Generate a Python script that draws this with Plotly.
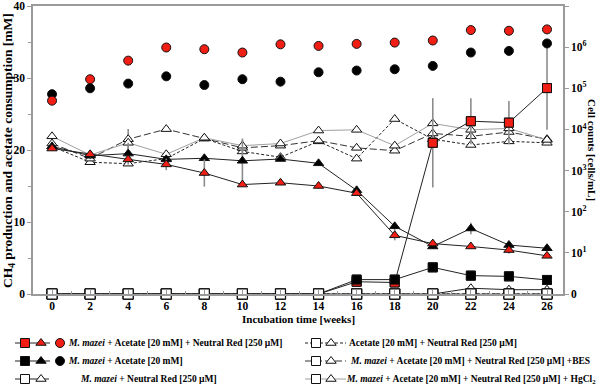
import plotly.graph_objects as go

# ---------------- data ----------------
weeks = [0, 2, 4, 6, 8, 10, 12, 14, 16, 18, 20, 22, 24, 26]

# CH4 production [mM] (squares)
ch4_mm_ac_nr = [0, 0, 0, 0, 0, 0, 0, 0, 1.7, 1.6, 21.0, 24.0, 23.8, 28.6]
ch4_mm_ac_nr_err = [0, 0, 0, 0, 0, 0, 0, 0, 0.2, 0.2, 6.2, 3.2, 3.0, 5.8]
ch4_mm_ac = [0, 0, 0, 0, 0, 0, 0, 0, 2.0, 2.0, 3.7, 2.55, 2.45, 1.95]
ch4_zero = [0, 0, 0, 0, 0, 0, 0, 0, 0, 0, 0, 0, 0, 0]

# acetate [mM] (triangles)
ac_mm_ac_nr = [20.2, 19.4, 18.7, 18.0, 16.8, 15.2, 15.45, 15.0, 14.0, 8.15, 7.0, 6.6, 6.1, 5.3]
ac_mm_ac_nr_err = [0.3, 0.4, 0.3, 0.8, 1.9, 0.3, 0.3, 0.3, 0.4, 0.7, 0.3, 0.3, 0.5, 0.3]
ac_mm_ac = [20.5, 19.2, 19.5, 18.7, 18.85, 18.5, 18.75, 18.15, 14.4, 9.4, 6.6, 9.1, 6.8, 6.35]
ac_mm_ac_err = [0.3, 0.5, 1.5, 0.3, 0.3, 2.9, 0.3, 0.3, 0.6, 0.5, 0.3, 0.8, 0.4, 0.3]
ac_ctrl_ac_nr = [20.5, 18.3, 18.1, 18.8, 21.6, 19.8, 19.0, 21.2, 18.8, 24.3, 21.5, 20.7, 21.2, 21.0]
ac_bes = [20.9, 18.8, 21.5, 22.9, 21.6, 20.3, 20.6, 21.3, 20.3, 19.9, 22.3, 21.9, 22.5, 21.5]
ac_bes_err = [0, 0, 1.4, 0, 0, 0, 0, 0, 0, 0, 0, 0, 0, 0]
ac_hg = [21.9, 19.3, 21.0, 19.4, 21.7, 20.6, 20.9, 22.7, 22.8, 20.6, 23.7, 22.8, 23.0, 21.4]
ac_hg_err = [0, 0, 0, 0, 0, 1.0, 0, 0, 0, 0, 0, 0, 0, 0]
ac_mm_nr = [0, 0, 0, 0, 0, 0, 0, 0, 0, 0, 0, 0.8, 0.6, 0.6]

# cell counts [cells/mL] (circles, right axis)
cells_mm_ac_nr = [5.0e4, 1.66e5, 4.7e5, 9.8e5, 8.9e5, 7.4e5, 1.17e6, 1.07e6, 1.2e6,
                  1.29e6, 1.45e6, 2.6e6, 2.5e6, 2.7e6]
cells_mm_ac = [7.2e4, 1.0e5, 1.3e5, 1.95e5, 1.2e5, 1.66e5, 1.45e5, 2.45e5, 2.7e5,
               2.9e5, 3.5e5, 7.4e5, 8.1e5, 1.23e6]

right_tickvals = [1, 10, 100, 1e3, 1e4, 1e5, 1e6, 1e7]
right_ticktext = ["0", "10<sup>1</sup>", "10<sup>2</sup>", "10<sup>3</sup>", "10<sup>4</sup>",
                  "10<sup>5</sup>", "10<sup>6</sup>", "10<sup>7</sup>"]

legend_labels = [
    "<i>M. mazei</i> + Acetate [20 mM] + Neutral Red [250 µM]",
    "<i>M. mazei</i> + Acetate [20 mM]",
    "<i>M. mazei</i> + Neutral Red [250 µM]",
    "Acetate [20 mM] + Neutral Red [250 µM]",
    "<i>M. mazei</i> + Acetate [20 mM] + Neutral Red [250 µM] +BES",
    "<i>M. mazei</i> + Acetate [20 mM] + Neutral Red [250 µM] + HgCl<sub>2</sub>",
]

# ---------------- styling ----------------
FONT = "Liberation Serif"
RED = "#f01e14"
AXC = "#9a9a9a"
ERRC = "#8c8c8c"
W, H = 601, 387
PL, PR, PT, PB = 33, 563, 6, 294

fig = go.Figure()


def add_series(y, symbol, fill, lcolor, dash, err=None, yaxis="y", size=9, mode="lines+markers", lw=1):
    kw = {}
    if err is not None:
        kw["error_y"] = dict(type="data", array=err, color=ERRC, thickness=1.6, width=0, visible=True)
    fig.add_trace(go.Scatter(
        x=weeks, y=y, mode=mode, yaxis=yaxis, xaxis="x",
        line=dict(color=lcolor, width=lw, dash=dash),
        marker=dict(symbol=symbol, size=size, color=fill, line=dict(color="#111", width=1)),
        cliponaxis=False, showlegend=False, **kw))


# control series (white markers)
add_series(ac_ctrl_ac_nr, "triangle-up", "white", "#222", "3px,2px")
add_series(ac_bes, "triangle-up", "white", "#333", "7px,3px", err=ac_bes_err)
add_series(ac_hg, "triangle-up", "white", "#a0a0a0", "solid", err=ac_hg_err)
add_series(ac_mm_nr, "triangle-up", "white", "#222", "solid")
add_series(ch4_zero, "square", "white", "#a0a0a0", "solid", size=10)
add_series(ch4_zero, "square", "white", "#222", "3px,2px", size=10)
add_series(ch4_zero, "square", "white", "#333", "7px,3px", size=10)

# M. mazei + acetate (black)
add_series(ac_mm_ac, "triangle-up", "black", "#222", "solid", err=ac_mm_ac_err)
# M. mazei + acetate + NR (red)
add_series(ac_mm_ac_nr, "triangle-up", RED, "#222", "solid", err=ac_mm_ac_nr_err)
add_series(ch4_mm_ac, "square", "black", "#222", "solid")
add_series(ch4_mm_ac_nr, "square", RED, "#222", "solid", err=ch4_mm_ac_nr_err)

# white squares drawn on top at zero
fig.add_trace(go.Scatter(x=weeks, y=ch4_zero, mode="markers", xaxis="x", yaxis="y",
                         marker=dict(symbol="square", size=10, color="white", line=dict(color="#111", width=1.2)),
                         cliponaxis=False, showlegend=False))
# re-draw colored squares above white ones where non zero
fig.add_trace(go.Scatter(x=weeks[8:], y=ch4_mm_ac_nr[8:], mode="markers", xaxis="x", yaxis="y",
                         marker=dict(symbol="square", size=9, color=RED, line=dict(color="#111", width=1)),
                         cliponaxis=False, showlegend=False))
fig.add_trace(go.Scatter(x=weeks[8:], y=ch4_mm_ac[8:], mode="markers", xaxis="x", yaxis="y",
                         marker=dict(symbol="square", size=9, color="black", line=dict(color="#111", width=1)),
                         cliponaxis=False, showlegend=False))

# cell counts (circles)
add_series(cells_mm_ac, "circle", "black", "#222", "solid", yaxis="y2", mode="markers")
add_series(cells_mm_ac_nr, "circle", RED, "#222", "solid", yaxis="y2", mode="markers")

# ---------------- legend (drawn on a pixel-coordinate helper axis) ----------------
rows = [343, 361, 379]
leg_items = [
    (15, 50, "#222", "solid", [(25, "square", RED), (41, "triangle-up", RED), (60, "circle", RED)], 67, rows[0]),
    (15, 50, "#222", "solid", [(25, "square", "black"), (41, "triangle-up", "black"), (60, "circle", "black")], 67, rows[1]),
    (15, 49, "#222", "solid", [(25, "square", "white"), (41, "triangle-up", "white")], 79, rows[2]),
    (305, 346, "#222", "3px,2px", [(316, "square", "white"), (331, "triangle-up", "white")], 348, rows[0]),
    (305, 346, "#333", "7px,3px", [(316, "square", "white"), (331, "triangle-up", "white")], 349, rows[1]),
    (305, 346, "#a0a0a0", "solid", [(316, "square", "white"), (331, "triangle-up", "white")], 345, rows[2]),
]
for i, (x0, x1, lc, dash, marks, tx, ry) in enumerate(leg_items):
    fig.add_trace(go.Scatter(x=[x0, x1], y=[ry, ry], mode="lines", xaxis="x2", yaxis="y3",
                             line=dict(color=lc, width=1.2, dash=dash), showlegend=False, hoverinfo="skip"))
    fig.add_trace(go.Scatter(x=[m[0] for m in marks], y=[ry] * len(marks), mode="markers",
                             xaxis="x2", yaxis="y3",
                             marker=dict(symbol=[m[1] for m in marks], color=[m[2] for m in marks],
                                         size=9, line=dict(color="#111", width=1)),
                             showlegend=False, hoverinfo="skip", cliponaxis=False))
    fig.add_annotation(x=tx, y=ry, xref="x2", yref="y3", text=legend_labels[i], showarrow=False,
                       xanchor="left", yanchor="middle", borderpad=0,
                       font=dict(family=FONT, size=9.5, color="black", weight="bold"))

# ---------------- axes ----------------
tickfont = dict(family=FONT, size=11.5, color="black", weight="bold")
fig.update_layout(
    width=W, height=H, margin=dict(l=0, r=0, t=0, b=0, autoexpand=False),
    paper_bgcolor="white", plot_bgcolor="white",
    xaxis=dict(domain=[PL / W, PR / W], range=[-1, 26.84], tickvals=weeks, ticks="inside",
               ticklen=4, tickcolor=AXC, showline=True, linecolor=AXC, linewidth=1.5, mirror=True,
               showgrid=False, zeroline=False, tickfont=tickfont, anchor="y", automargin=False,
               minor=dict(dtick=1, ticks="inside", ticklen=3, tickcolor=AXC)),
    yaxis=dict(domain=[1 - PB / H, 1 - PT / H], range=[0, 40], dtick=10, ticks="outside", ticklen=4,
               tickcolor=AXC, showline=True, linecolor=AXC, linewidth=1.5, showgrid=False,
               zeroline=False, tickfont=tickfont, anchor="x", automargin=False,
               minor=dict(dtick=5, ticks="outside", ticklen=3, tickcolor=AXC)),
    yaxis2=dict(overlaying="y", side="right", type="log", range=[0, 7], tickvals=right_tickvals,
                ticktext=right_ticktext, ticks="outside", ticklen=4, tickcolor=AXC, showline=True,
                linecolor=AXC, linewidth=1.5, showgrid=False, zeroline=False, tickfont=tickfont,
                anchor="x", automargin=False),
    xaxis2=dict(domain=[0, 1], range=[0, W], visible=False, anchor="y3", fixedrange=True, automargin=False),
    yaxis3=dict(domain=[0, 1 - PB / H], range=[H, PB], visible=False, anchor="x2", fixedrange=True,
                automargin=False),
)

fig.add_annotation(x=298 / W, y=1 - 319 / H, xref="paper", yref="paper", showarrow=False,
                   text="Incubation time [weeks]",
                   font=dict(family=FONT, size=11, color="black", weight="bold"),
                   xanchor="center", yanchor="middle")
fig.add_annotation(x=8 / W, y=1 - 151 / H, xref="paper", yref="paper", showarrow=False, textangle=-90,
                   text="CH<sub>4</sub> production and acetate consumption [mM]",
                   font=dict(family=FONT, size=13.5, color="black", weight="bold"),
                   xanchor="center", yanchor="middle")
fig.add_annotation(x=592 / W, y=1 - 150 / H, xref="paper", yref="paper", showarrow=False, textangle=90,
                   text="Cell counts [cells/mL]",
                   font=dict(family=FONT, size=11, color="black", weight="bold"),
                   xanchor="center", yanchor="middle")

fig.write_html("out.html", config={"displayModeBar": False},
               post_script="document.body.style.margin='0px';document.body.style.overflow='hidden';")
